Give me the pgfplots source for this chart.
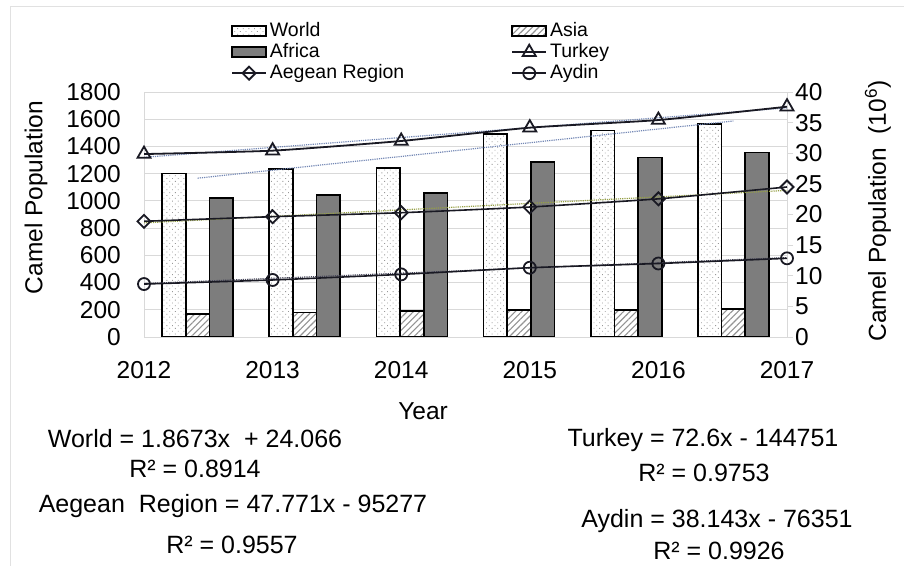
\documentclass[border=0pt]{standalone}
\usepackage{fontspec}
\setmainfont{Liberation Sans}
\usepackage{pgfplots}
\pgfplotsset{compat=1.18}
\usetikzlibrary{patterns.meta}

\definecolor{gridc}{RGB}{217,217,217}
\definecolor{afr}{RGB}{125,125,125}
\definecolor{trendblue}{RGB}{115,135,180}
\definecolor{trendolive}{RGB}{150,160,70}
\definecolor{trenddark}{RGB}{70,70,90}
\definecolor{linec}{RGB}{25,25,35}
\definecolor{framec}{RGB}{225,225,225}

\newcommand{\tickfont}{\fontsize{24.5bp}{28bp}\selectfont}
\newcommand{\labfont}{\fontsize{24.5bp}{28bp}\selectfont}
\newcommand{\legfont}{\fontsize{19.5bp}{22bp}\selectfont}
\newcommand{\eqfont}{\fontsize{25bp}{29bp}\selectfont}

\tikzset{
  worldbar/.style={draw=black, line width=1.7bp, fill=white,
    postaction={pattern={Dots[distance=4bp, radius=0.6bp, angle=45]}, pattern color=gray!80}},
  asiabar/.style={draw=black, line width=1.7bp, fill=white,
    postaction={pattern={Lines[angle=45, distance=4.5bp, line width=1.1bp]}, pattern color=gray!85}},
  africabar/.style={draw=black, line width=1.7bp, fill=afr},
  turkeyline/.style={linec, line width=1.8bp, mark=triangle, mark size=7.5bp, mark options={line width=1.8bp, solid}},
  aegeanline/.style={linec, line width=1.6bp, mark=square, mark size=4.6bp, mark options={rotate=45, line width=1.8bp, solid}},
  aydinline/.style={linec, line width=1.6bp, mark=o, mark size=6bp, mark options={line width=1.8bp, solid}},
}

\pgfplotsset{
  common/.style={scale only axis, width=643bp, height=245bp,
    at={(144bp,229bp)}, anchor=south west,
    /pgf/number format/assume math mode=true,
    /pgf/number format/1000 sep={}},
  barleg/.style={legend image code/.code={\draw[##1] (0bp,-5bp) rectangle (34bp,5bp);}},
  lineleg/.style={legend image code/.code={\draw[mark repeat=2,mark phase=2,##1] plot coordinates {(0bp,0bp) (17bp,0bp) (34bp,0bp)};}},
}

\begin{document}
\begin{tikzpicture}
\path[use as bounding box] (0,0) rectangle (904bp,566bp);
\draw[framec, line width=1bp] (10bp,0bp) -- (10bp,559bp) -- (904bp,559bp);

% ---- bars on the right axis (categories 1..6 at 0.5..5.5)
\begin{axis}[common,
  xmin=0, xmax=6, ymin=0, ymax=40,
  xtick=\empty,
  ytick={0,5,...,40}, ytick pos=right, yticklabel pos=right,
  tick align=outside, major tick length=6bp,
  tick style={gridc, line width=0.8bp},
  axis line style={gridc, line width=0.8bp},
  extra y ticks={4.4444,8.8889,13.3333,17.7778,22.2222,26.6667,31.1111,35.5556},
  extra y tick labels={},
  extra y tick style={grid=major, major tick length=0pt},
  major grid style={gridc, line width=0.8bp},
  yticklabel style={font=\tickfont, inner sep=0pt, anchor=west, xshift=2bp},
  ylabel={Camel Population\ \ (10\textsuperscript{6})},
  ylabel style={at={(axis description cs:1.1415,0.514)}, anchor=center, font=\labfont},
]
\addplot[ybar, bar width=0.221, bar shift=-0.221, worldbar] coordinates
  {(0.5,26.7) (1.5,27.4) (2.5,27.6) (3.5,33.1) (4.5,33.7) (5.5,34.8)};
\addplot[ybar, bar width=0.221, bar shift=0, asiabar] coordinates
  {(0.5,3.8) (1.5,4.0) (2.5,4.2) (3.5,4.4) (4.5,4.4) (5.5,4.6)};
\addplot[ybar, bar width=0.221, bar shift=0.221, africabar] coordinates
  {(0.5,22.7) (1.5,23.2) (2.5,23.5) (3.5,28.6) (4.5,29.3) (5.5,30.1)};
% World linear trend (1.8673x + 24.066 at categories 1 and 6)
\addplot[trendblue, line width=1.2bp, densely dotted] coordinates {(0.5,25.93) (5.5,35.27)};
\end{axis}

% ---- lines on the left axis
\begin{axis}[common,
  xmin=2012, xmax=2017, ymin=0, ymax=1800,
  axis line style={draw=none},
  xtick={2012,2013,2014,2015,2016,2017},
  ytick={0,200,...,1800},
  major tick length=0pt,
  xticklabel style={font=\tickfont, inner sep=0pt, anchor=center, yshift=-33bp},
  yticklabel style={font=\tickfont, inner sep=0pt, anchor=east, xshift=-23bp},
  xlabel={Year},
  xlabel style={at={(axis description cs:0.434,0)}, anchor=center, yshift=-74bp, font=\labfont},
  ylabel={Camel Population},
  ylabel style={at={(axis description cs:-0.168,0.569)}, anchor=center, font=\labfont},
  legend columns=2,
  legend cell align=left,
  legend style={at={(axis description cs:0.1353,1.2857)}, anchor=north west,
    draw=none, fill=none, inner sep=0pt, font=\legfont, row sep=3bp,
    nodes={inner sep=0pt, text height=14bp, text depth=4bp},
    /tikz/column 1/.style={column sep=3bp},
    /tikz/column 2/.style={column sep=107bp},
    /tikz/column 3/.style={column sep=3bp}},
]
\addlegendimage{barleg, worldbar}\addlegendentry{World}
\addlegendimage{barleg, asiabar}\addlegendentry{Asia}
\addlegendimage{barleg, africabar}\addlegendentry{Africa}
\addlegendimage{lineleg, turkeyline}\addlegendentry{Turkey}
\addlegendimage{lineleg, aegeanline}\addlegendentry{Aegean Region}
\addlegendimage{lineleg, aydinline}\addlegendentry{Aydin}

% trend lines
\addplot[forget plot, trendblue, line width=1.2bp, densely dotted] coordinates {(2012,1320.2) (2017,1683.2)};
\addplot[forget plot, trendolive, line width=1.2bp, densely dotted] coordinates {(2012,838.3) (2017,1077.2)};
\addplot[forget plot, trenddark, line width=1.2bp, densely dotted] coordinates {(2012,392.7) (2017,583.4)};

\addplot[forget plot, turkeyline, smooth, tension=0.3] coordinates
  {(2012,1344) (2013,1369) (2014,1440) (2015,1538) (2016,1594) (2017,1692)};
\addplot[forget plot, aegeanline, smooth, tension=0.3] coordinates
  {(2012,850) (2013,884) (2014,913) (2015,955) (2016,1015) (2017,1102)};
\addplot[forget plot, aydinline, smooth, tension=0.3] coordinates
  {(2012,389) (2013,419) (2014,460) (2015,509) (2016,540) (2017,578)};
\end{axis}

\node[font=\eqfont, anchor=base] at (195bp,118bp) {World = 1.8673x\ \ + 24.066};
\node[font=\eqfont, anchor=base] at (195bp,88bp) {R² = 0.8914};
\node[font=\eqfont, anchor=base] at (233bp,53bp) {Aegean\ \ Region = 47.771x - 95277};
\node[font=\eqfont, anchor=base] at (232bp,13bp) {R² = 0.9557};
\node[font=\eqfont, anchor=base] at (703bp,119bp) {Turkey = 72.6x - 144751};
\node[font=\eqfont, anchor=base] at (704bp,84bp) {R² = 0.9753};
\node[font=\eqfont, anchor=base] at (717bp,39bp) {Aydin = 38.143x - 76351};
\node[font=\eqfont, anchor=base] at (719bp,7bp) {R² = 0.9926};
\end{tikzpicture}
\end{document}
